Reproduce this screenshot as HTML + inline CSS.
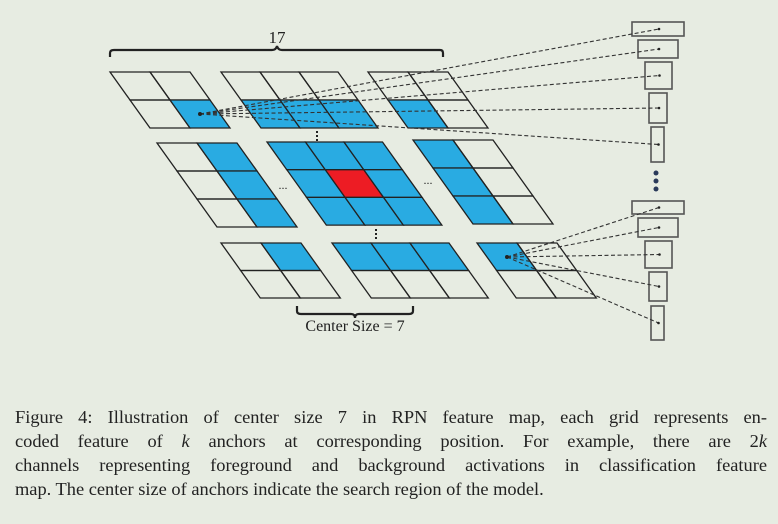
<!DOCTYPE html>
<html><head><meta charset="utf-8"><style>
body{margin:0;background:#e7ece2;width:778px;height:524px;overflow:hidden;position:relative;font-family:"Liberation Serif",serif;}
svg{position:absolute;left:0;top:0}
.cap{position:absolute;left:15px;top:405px;width:752px;font-size:18.4px;line-height:24px;color:#222;}
.cap div{text-align:justify;text-align-last:justify;white-space:nowrap}
.cap div.l{text-align-last:left}
</style></head><body>
<svg id="s" width="778" height="400" xmlns="http://www.w3.org/2000/svg">
<text x="277" y="43" font-family="Liberation Serif" font-size="17" text-anchor="middle" fill="#222">17</text>
<path d="M110,57 V53 Q110,50 114,50 H272 Q276,50 277,46 Q278,50 282,50 H440 Q443,50 443,53 V57" fill="none" stroke="#222" stroke-width="2.2"/>
<path d="M297,306 V311 Q297,314 301,314 H351 Q355,314 355,318 Q355,314 359,314 H409 Q413,314 413,311 V306" fill="none" stroke="#222" stroke-width="2.2"/>
<text x="355" y="331" font-family="Liberation Serif" font-size="16" text-anchor="middle" fill="#222">Center Size = 7</text>
<text x="283" y="189" font-size="12" text-anchor="middle" fill="#222">...</text>
<text x="428" y="184" font-size="12" text-anchor="middle" fill="#222">...</text>
<g fill="#222"><rect x="316" y="131" width="2" height="2"/><rect x="316" y="135" width="2" height="2"/><rect x="316" y="139" width="2" height="2"/>
<rect x="375" y="229" width="2" height="2"/><rect x="375" y="233" width="2" height="2"/><rect x="375" y="237" width="2" height="2"/></g>
<g fill="#2a3a5a"><circle cx="656" cy="173" r="2.5"/><circle cx="656" cy="181" r="2.5"/><circle cx="656" cy="189" r="2.5"/></g>
</svg>
<div class="cap">
<div>Figure 4: Illustration of center size 7 in RPN feature map, each grid represents en-</div>
<div>coded feature of <i>k</i> anchors at corresponding position. For example, there are 2<i>k</i></div>
<div>channels representing foreground and background activations in classification feature</div>
<div class="l">map. The center size of anchors indicate the search region of the model.</div>
</div>
<script>
var s=document.getElementById('s'),h='';
var B='#29abe2',R='#ed1c24',W='none';
function g(x0,y0,w,rows,cols,rh,fill){var sh=20*rh/28;for(var r=0;r<rows;r++)for(var c=0;c<cols;c++){var f=fill(r,c);var x=x0+c*w+r*sh,y=y0+r*rh;h+='<polygon points="'+x+','+y+' '+(x+w)+','+y+' '+(x+w+sh)+','+(y+rh)+' '+(x+sh)+','+(y+rh)+'" fill="'+f+'" stroke="#222" stroke-width="1.3"/>';}}
g(110,72,40,2,2,28,function(r,c){return r==1&&c==1?B:W});
g(221,72,39,2,3,28,function(r,c){return r==1?B:W});
g(368,72,40,2,2,28,function(r,c){return r==1&&c==0?B:W});
g(157,143,40,3,2,28,function(r,c){return c==1?B:W});
g(267,142,38.5,3,3,27.7,function(r,c){return r==1&&c==1?R:B});
g(413,140,40,3,2,28,function(r,c){return c==0?B:W});
g(221,243,40,2,2,27.5,function(r,c){return r==0&&c==1?B:W});
g(332,243,39,2,3,27.5,function(r,c){return r==0?B:W});
g(477,243,40,2,2,27.5,function(r,c){return r==0&&c==0?B:W});
var bx=[[632,22,52,14],[638,40,40,18],[645,62,27,27],[649,93,18,30],[651,127,13,35],[632,201,52,13],[638,218,40,19],[645,241,27,27],[649,272,18,29],[651,306,13,34]];
bx.forEach(function(b,i){h+='<rect x="'+b[0]+'" y="'+b[1]+'" width="'+b[2]+'" height="'+b[3]+'" fill="none" stroke="#555" stroke-width="1.6"/>';
var dx=b[0]+b[2]/2+1,dy=b[1]+b[3]/2,ax=i<5?200:507,ay=i<5?114:257;
h+='<line x1="'+ax+'" y1="'+ay+'" x2="'+dx+'" y2="'+dy+'" stroke="#333" stroke-width="1.1" stroke-dasharray="4,2.5"/><circle cx="'+dx+'" cy="'+dy+'" r="1.3" fill="#222"/>';});
h+='<circle cx="200" cy="114" r="2" fill="#222"/><circle cx="507" cy="257" r="2" fill="#222"/>';
s.insertAdjacentHTML('beforeend',h);
</script>
</body></html>
